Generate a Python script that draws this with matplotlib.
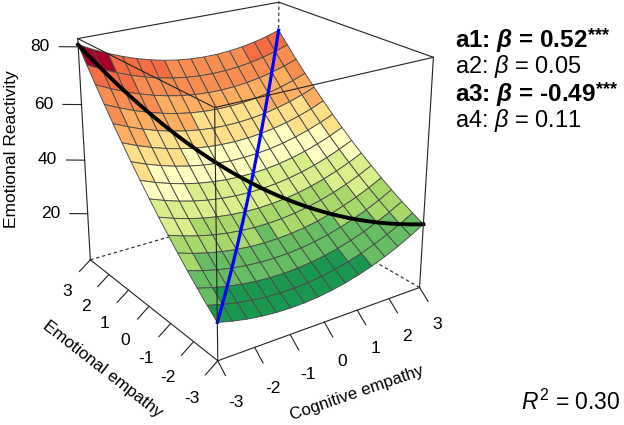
import numpy as np
import matplotlib
matplotlib.use('Agg')
import matplotlib.pyplot as plt
from mpl_toolkits.mplot3d import proj3d
from matplotlib.mathtext import MathTextParser

plt.rcParams['font.family'] = ['Liberation Sans', 'DejaVu Sans']
plt.rcParams['mathtext.fontset'] = 'custom'
plt.rcParams['mathtext.rm'] = 'Liberation Sans'
plt.rcParams['mathtext.it'] = 'Liberation Sans:italic'
plt.rcParams['mathtext.bf'] = 'Liberation Sans:bold'
try:
    plt.rcParams['mathtext.bfit'] = 'Liberation Sans:bold:italic'
except KeyError:
    pass

# ---------------- data ----------------
coef_b0 = 36.0
coef_x = 0.16      # cognitive empathy
coef_y = 9.34      # emotional empathy
coef_x2 = 0.90
coef_xy = -0.52
coef_y2 = 0.49
x_range = (-3, 3)
y_range = (-3, 3)
z_range = (2.2, 82.8)
grid_points = 16
xy_ticks = [-3, -2, -1, 0, 1, 2, 3]
z_ticks = [20, 40, 60, 80]
palette = ['#1A9850', '#66BD63', '#A6D96A', '#D9EF8B', '#FFFFBF',
           '#FEE08B', '#FDAE61', '#F88D52', '#F46D43', '#A50026']
param_names = ['a1', 'a2', 'a3', 'a4']
param_betas = ['0.52', '0.05', '-0.49', '0.11']
param_stars = ['***', '', '***', '']
r2_text = '0.30'
x_label = 'Cognitive empathy'
y_label = 'Emotional empathy'
z_label = 'Emotional Reactivity'


def surface(x, y):
    return (coef_b0 + coef_x * x + coef_y * y + coef_x2 * x ** 2
            + coef_xy * x * y + coef_y2 * y ** 2)


W_PX, H_PX = 624, 425
fig = plt.figure(figsize=(W_PX / 100, H_PX / 100), dpi=100)
ax_size = 0.660
ax = fig.add_axes([0.0636, 0.1145, ax_size, ax_size * W_PX / H_PX], projection='3d')
ax.set_xlim(*x_range)
ax.set_ylim(*y_range)
ax.set_zlim(*z_range)
ax.view_init(elev=22.37, azim=-124.84)
ax.set_proj_type('persp', focal_length=0.5408)
ax.set_box_aspect((1, 1.004, 0.994))
ax.set_axis_off()
ax.computed_zorder = False

# surface grid and facet colours
xs = np.linspace(*x_range, grid_points)
ys = np.linspace(*y_range, grid_points)
X, Y = np.meshgrid(xs, ys)
Z = surface(X, Y)
Zc = (Z[:-1, :-1] + Z[1:, :-1] + Z[:-1, 1:] + Z[1:, 1:]) / 4
lo, hi = Z.min(), Z.max()
idx = np.clip(((Zc - lo) / (hi - lo) * len(palette)).astype(int), 0, len(palette) - 1)
pal_rgba = np.array([matplotlib.colors.to_rgba(c) for c in palette])
fc = np.ones(Z.shape + (4,))
fc[:-1, :-1] = pal_rgba[idx]

# box edges
xmn, xmx = x_range
ymn, ymx = y_range
z_lo, z_hi = z_range
cube = [(x, y, z) for x in (xmn, xmx) for y in (ymn, ymx) for z in (z_lo, z_hi)]
hidden = (xmx, ymx, z_lo)
edges = []
for i in range(8):
    for j in range(i + 1, 8):
        a, b = cube[i], cube[j]
        if sum(1 for u, v in zip(a, b) if u != v) == 1:
            edges.append((a, b))
for a, b in edges:
    if a == hidden or b == hidden:
        ax.plot(*zip(a, b), color='#222222', lw=0.8, ls=(0, (3, 2.5)), zorder=1)

ax.plot_surface(X, Y, Z, facecolors=fc, rstride=1, cstride=1, shade=False,
                edgecolor='#4a4a4a', linewidth=0.65, antialiased=True, zorder=2)

t = np.linspace(*x_range, 120)
ax.plot(t, t, surface(t, t), color='#0000FF', lw=2.3, zorder=3)
ax.plot(t, -t, surface(t, -t), color='black', lw=2.8, zorder=4)

for a, b in edges:
    if a != hidden and b != hidden:
        ax.plot(*zip(a, b), color='#222222', lw=0.8, zorder=5)


def label3d(x, y, z, s, **kw):
    px, py, _ = proj3d.proj_transform(x, y, z, ax.get_proj())
    ax.text2D(px, py, s, transform=ax.transData, zorder=6, **kw)


# ticks and tick labels
tick_out, tick_down = 0.33, 3.3
lab_out, lab_down = 0.70, 9.6
for v in xy_ticks:
    ax.plot([v, v], [ymn, ymn - tick_out], [z_lo, z_lo - tick_down], color='#222222', lw=0.8, zorder=5)
    label3d(v, ymn - lab_out, z_lo - lab_down, str(v), ha='center', va='center', fontsize=12.5)
    ax.plot([xmn, xmn - tick_out], [v, v], [z_lo, z_lo - tick_down], color='#222222', lw=0.8, zorder=5)
    label3d(xmn - lab_out, v, z_lo - lab_down, str(v), ha='center', va='center', fontsize=12.5)
for v in z_ticks:
    ax.plot([xmn, xmn - 0.37], [ymx, ymx + 0.27], [v, v], color='#222222', lw=0.8, zorder=5)
    label3d(xmn - 0.76, ymx + 0.55, v, str(v), ha='center', va='center', fontsize=12.5)

# axis titles
fig.text(12 / W_PX, 1 - 149 / H_PX, z_label, rotation=90, ha='center', va='center', fontsize=12.5)
fig.text(102 / W_PX, 1 - 369 / H_PX, y_label, rotation=-38, ha='center', va='center',
         fontsize=12.3, rotation_mode='anchor')
fig.text(357 / W_PX, 1 - 393 / H_PX, x_label, rotation=19, ha='center', va='center',
         fontsize=12.2, rotation_mode='anchor')


def math_ok(s):
    try:
        MathTextParser('path').parse(s)
        return True
    except Exception:
        return False


bold_beta = r'\boldsymbol{\beta}' if math_ok(r'$\boldsymbol{\beta}$') else r'\mathbf{\beta}'
line_y = [40, 67, 94, 120]
for name, beta, stars, yy in zip(param_names, param_betas, param_stars, line_y):
    if stars:
        s = name + ': $' + bold_beta + '$ = ' + beta
        tx = fig.text(455 / W_PX, 1 - yy / H_PX, s, ha='left', va='center',
                      fontsize=17.5, weight='bold')
        fig.canvas.draw()
        bb = tx.get_window_extent()
        fig.text(bb.x1 / W_PX + 0.001, bb.y1 / H_PX - 0.002, stars, ha='left', va='top',
                 fontsize=13, weight='bold')
    else:
        s = name + r': $\beta$ = ' + beta
        fig.text(455 / W_PX, 1 - yy / H_PX, s, ha='left', va='center', fontsize=17)

fig.text(620 / W_PX, 1 - 402 / H_PX, r'$R^2$ = ' + r2_text, ha='right', va='center', fontsize=16.5)

fig.savefig('out.png', dpi=100)
